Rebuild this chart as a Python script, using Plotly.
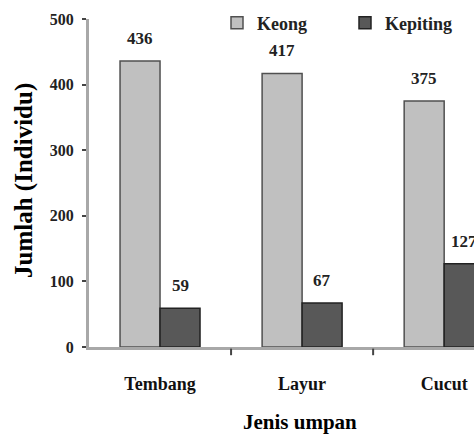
import plotly.graph_objects as go

categories = ["Tembang", "Layur", "Cucut"]
keong = [436, 417, 375]
kepiting = [59, 67, 127]
series_names = ["Keong", "Kepiting"]
y_ticks = [0, 100, 200, 300, 400, 500]

FONT = "Liberation Serif"
INK = "#000"
W, H = 474, 440
ML, MR, MT, MB = 89, 0, 19, 93
PW, PH = W - ML - MR, H - MT - MB


def px_x(x):
    return (x - ML) / PW


def px_y(y):
    return (H - MB - y) / PH


def f(size, color=INK):
    return dict(family=FONT, size=size, color=color, weight="bold")


fig = go.Figure()
fig.add_trace(go.Bar(name=series_names[0], x=categories, y=keong, legend="legend",
                     marker=dict(color="#c0c0c0", line=dict(color="#505050", width=1.5))))
fig.add_trace(go.Bar(name=series_names[1], x=categories, y=kepiting, legend="legend2",
                     marker=dict(color="#585858", line=dict(color="#222222", width=1.5))))

for vals, shift in ((keong, -20), (kepiting, 20)):
    for c, v in zip(categories, vals):
        fig.add_annotation(x=c, y=v, text=str(v), showarrow=False, xshift=shift,
                           yanchor="bottom", yshift=11, font=f(17, "#222"))

# axis titles
fig.add_annotation(x=px_x(300), xref="paper", y=px_y(422), yref="paper", text="Jenis umpan",
                   showarrow=False, xanchor="center", yanchor="middle", font=f(21))
fig.add_annotation(x=px_x(24), xref="paper", y=px_y(181), yref="paper", text="Jumlah (Individu)",
                   showarrow=False, textangle=-90, xanchor="center", yanchor="middle", font=f(25))

leg_common = dict(orientation="h", yanchor="middle", xanchor="left",
                  font=f(18, "#222"), bgcolor="rgba(0,0,0,0)", itemwidth=30)

fig.update_layout(
    width=W, height=H,
    margin=dict(l=ML, r=MR, t=MT, b=MB, autoexpand=False),
    paper_bgcolor="white", plot_bgcolor="white",
    barmode="group", bargap=0.437, bargroupgap=0,
    font=f(17),
    showlegend=True,
    legend=dict(x=px_x(217), y=px_y(23), **leg_common),
    legend2=dict(x=px_x(345), y=px_y(23), **leg_common),
    xaxis=dict(range=[-0.5, 2.21], showline=True, linecolor="#a8a8a8", linewidth=3,
               ticks="", showgrid=False, zeroline=False, automargin=False,
               ticklabelstandoff=18, tickfont=f(18, "#111")),
    yaxis=dict(range=[0, 500], tickvals=y_ticks, showline=True, linecolor="#a8a8a8", linewidth=3,
               ticks="outside", ticklen=4, tickwidth=2, tickcolor="#444",
               showgrid=False, zeroline=False, automargin=False,
               ticklabelstandoff=5, tickfont=f(16, "#222")),
)

# category boundary ticks on x axis
for b in (0.5, 1.5):
    fig.add_shape(type="line", xref="x", yref="paper", x0=b, x1=b, y0=-0.005, y1=-0.025,
                  line=dict(color="#444", width=2))

fig.write_html("out.html", config={"displayModeBar": False},
               post_script="document.body.style.margin='0';document.body.style.padding='0';"
                           "document.documentElement.style.overflow='hidden';")
